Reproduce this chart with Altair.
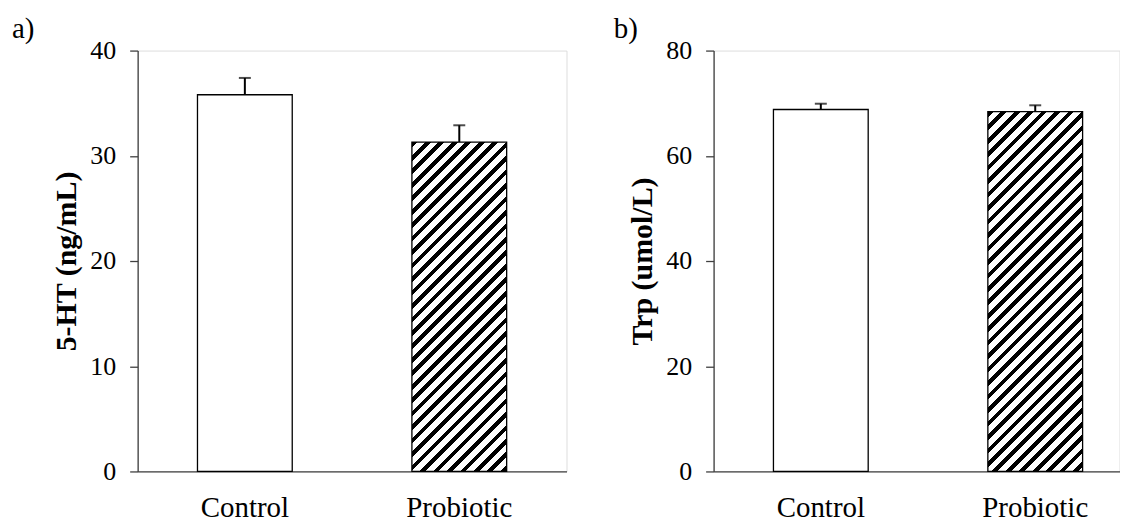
import altair as alt
import pandas as pd

groups = ["Control", "Probiotic"]
ht_mean = [35.8, 31.3]
ht_err = [1.6, 1.6]
trp_mean = [68.8, 68.4]
trp_err = [1.1, 1.2]

FONT = "Liberation Serif"
PLOT_H = 422
STEP = 215.0
PI = 0.5581
BAR_W = STEP * (1 - PI)
AXIS_COL = "#404040"


def hatch(W, H, period=13.5, frac=0.42):
    # diagonal "/" stripes via a hard-stop linear gradient (bounding-box units)
    D = W + H * H / W
    stops = []
    s = -period
    while s < W + H + period:
        a = min(max(s / D, 0.0), 1.0)
        b = min(max((s + frac * period) / D, 0.0), 1.0)
        c = min(max((s + period) / D, 0.0), 1.0)
        stops += [
            alt.GradientStop(offset=a, color="black"),
            alt.GradientStop(offset=b, color="black"),
            alt.GradientStop(offset=b, color="white"),
            alt.GradientStop(offset=c, color="white"),
        ]
        s += period
    return alt.LinearGradient(gradient="linear", x1=0, y1=0, x2=1, y2=H / W, stops=stops)


def panel(means, errs, ymax, yvals, ytitle, label, width, po, align, tpad, dx):
    df = pd.DataFrame({
        "group": groups,
        "mean": means,
        "top": [m + e for m, e in zip(means, errs)],
    })

    def X():
        return alt.X(
            "group:N",
            scale=alt.Scale(domain=groups, paddingInner=PI, paddingOuter=po, align=align),
            axis=alt.Axis(title=None, labelAngle=0, ticks=False, labelFont=FONT,
                          labelFontSize=29, labelColor="black", labelPadding=22,
                          domainColor=AXIS_COL, domainWidth=1.3, grid=False),
        )

    def Y(field):
        return alt.Y(
            field,
            scale=alt.Scale(domain=[0, ymax], nice=False, zero=True),
            axis=alt.Axis(values=yvals, title=ytitle, titleFont=FONT, titleFontSize=30,
                          titleFontWeight="bold", titleColor="black", titlePadding=tpad,
                          labelFont=FONT, labelFontSize=26, labelColor="black",
                          labelPadding=14, tickSize=8, tickColor=AXIS_COL, tickWidth=1.3,
                          domainColor=AXIS_COL, domainWidth=1.3, grid=False),
        )

    base = alt.Chart(df)
    H = means[1] / ymax * PLOT_H
    ctrl = base.transform_filter(alt.datum.group == "Control").mark_bar(
        fill="white", stroke="black", strokeWidth=1.3
    ).encode(x=X(), y=Y("mean:Q"))
    prob = base.transform_filter(alt.datum.group == "Probiotic").mark_bar(
        fill=hatch(BAR_W, H), stroke="black", strokeWidth=1.3
    ).encode(x=X(), y=Y("mean:Q"))
    rule = base.mark_rule(color="black", strokeWidth=2).encode(
        x=X(), y=Y("mean:Q"), y2="top:Q"
    )
    cap = base.mark_tick(color="black", thickness=2, size=12).encode(
        x=X(), y=Y("top:Q")
    )
    return alt.layer(ctrl, prob, rule, cap).properties(
        width=width,
        height=PLOT_H,
        title=alt.TitleParams(label, anchor="start", frame="group", dx=dx, font=FONT,
                              fontSize=29, fontWeight="normal", color="black",
                              baseline="alphabetic", offset=-29.5),
    )


left = panel(ht_mean, ht_err, 40, [0, 10, 20, 30, 40], "5-HT (ng/mL)", "a)",
             430, 0.279, 0.5, 8, -126)
right = panel(trp_mean, trp_err, 80, [0, 20, 40, 60, 80], "Trp (umol/L)", "b)",
              407, 0.2256, 0.6186, 8, -100)

chart = alt.hconcat(left, right, spacing=45.5).properties(
    padding={"left": 3, "top": 6, "right": 0, "bottom": 0}
).configure_view(stroke=None).configure(font=FONT)

chart.save("out.html", embed_options={"renderer": "svg", "actions": False})
